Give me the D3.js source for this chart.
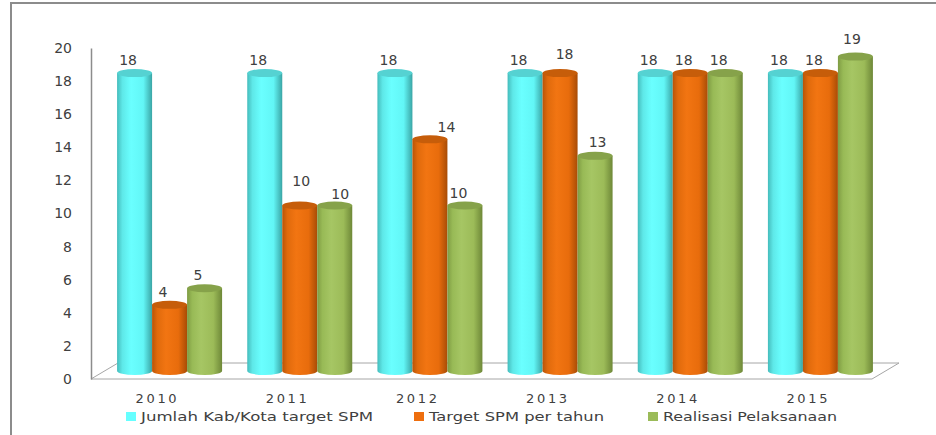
<!DOCTYPE html>
<html>
<head>
<meta charset="utf-8">
<script src="https://cdn.jsdelivr.net/npm/d3@7"></script>
<style>
  body { margin: 0; background: #fff; }
  svg { display: block; font-family: "DejaVu Sans", sans-serif; }
</style>
</head>
<body>
<svg id="chart" width="936" height="435"></svg>
<script>
// data
var years = ["2010", "2011", "2012", "2013", "2014", "2015"];
var seriesNames = ["Jumlah Kab/Kota target SPM", "Target SPM per tahun", "Realisasi Pelaksanaan"];
var jumlahKabKota = [18, 18, 18, 18, 18, 18];
var targetSPM = [4, 10, 14, 18, 18, 18];
var realisasi = [5, 10, 10, 13, 18, 19];
var yTicks = [0, 2, 4, 6, 8, 10, 12, 14, 16, 18, 20];

var seriesValues = [jumlahKabKota, targetSPM, realisasi];

var svg = d3.select("#chart");

// colours: body gradient stops + top cap
var pal = [
  {stops: ["#45bcbc", "#5ee8e8", "#6affff", "#62f6f6", "#3aa5a5"], top: "#55d2d2", key: "#66ffff"},
  {stops: ["#b85508", "#e06a0c", "#f27512", "#e86c0c", "#a84c06"], top: "#c65d0a", key: "#ee6e0e"},
  {stops: ["#7f9c44", "#98ba56", "#a6c664", "#9cbb58", "#6e8838"], top: "#86a24a", key: "#9bbb59"}
];

var defs = svg.append("defs");
pal.forEach(function(p, i) {
  var lg = defs.append("linearGradient").attr("id", "cyl" + i)
    .attr("x1", 0).attr("x2", 1).attr("y1", 0).attr("y2", 0);
  var offs = [0, 0.15, 0.4, 0.75, 1];
  p.stops.forEach(function(c, j) {
    lg.append("stop").attr("offset", offs[j]).attr("stop-color", c);
  });
});

// outer frame
svg.append("rect")
  .attr("x", 11).attr("y", 3)
  .attr("width", 940).attr("height", 450)
  .attr("fill", "#fff")
  .attr("stroke", "#8c8c8c").attr("stroke-width", 2);

// 3d geometry
var left = 91, right = 872, base = 379;
var depthX = 27, depthY = 16;

var x = d3.scaleBand().domain(years).range([left, right]);
var yFront = d3.scaleLinear().domain([0, 20]).range([base, base - 331]);
// bars stand half way into the floor
var yBar = d3.scaleLinear().domain([0, 20]).range([base - depthY / 2, base - depthY / 2 - 331]);
var barGroupW = 105;
var xInner = d3.scaleBand().domain(d3.range(3)).range([0, barGroupW]);

// floor
svg.append("path")
  .attr("d", "M" + left + "," + base +
    "L" + (left + depthX) + "," + (base - depthY) +
    "L" + (right + depthX) + "," + (base - depthY) +
    "L" + right + "," + base + "Z")
  .attr("fill", "#fff")
  .attr("stroke", "#a6a6a6").attr("stroke-width", 1);

// y axis
var yAxis = svg.append("g")
  .attr("transform", "translate(" + left + ",0)")
  .call(d3.axisLeft(yFront).tickValues(yTicks).tickSize(0).tickSizeOuter(0).tickPadding(19));
yAxis.select(".domain").attr("stroke", "#8c8c8c").attr("stroke-width", 1.5);
yAxis.selectAll("text").attr("font-size", 14).attr("fill", "#404040")
  .attr("font-family", "DejaVu Sans");

// x axis
var xAxis = svg.append("g")
  .attr("transform", "translate(0," + base + ")")
  .call(d3.axisBottom(x).tickSize(0).tickPadding(15));
xAxis.select(".domain").remove();
xAxis.selectAll("text").attr("font-size", 13).attr("fill", "#404040")
  .attr("font-family", "DejaVu Sans")
  .attr("textLength", 41).attr("lengthAdjust", "spacing");

// bars
var bars = [];
years.forEach(function(yr, gi) {
  seriesValues.forEach(function(vals, si) {
    bars.push({year: yr, s: si, v: vals[gi]});
  });
});

var rx = 17.5, ry = 4;
function barX(d) {
  return x(d.year) + depthX / 2 + (x.bandwidth() - barGroupW) / 2 + xInner(d.s);
}

var cyl = svg.append("g").selectAll("g.bar").data(bars).enter().append("g").attr("class", "bar");

cyl.append("path")
  .attr("d", function(d) {
    var x0 = barX(d), w = xInner.bandwidth();
    var t = yBar(d.v), b = yBar(0);
    return "M" + x0 + "," + t + "L" + x0 + "," + b +
      "A" + (w / 2) + "," + ry + " 0 0 0 " + (x0 + w) + "," + b +
      "L" + (x0 + w) + "," + t + "Z";
  })
  .attr("fill", function(d) { return "url(#cyl" + d.s + ")"; });

cyl.append("ellipse")
  .attr("cx", function(d) { return barX(d) + xInner.bandwidth() / 2; })
  .attr("cy", function(d) { return yBar(d.v); })
  .attr("rx", function() { return xInner.bandwidth() / 2; })
  .attr("ry", ry)
  .attr("fill", function(d) { return pal[d.s].top; });

// value labels; excel shifted a few of them to avoid the neighbours
var nudge = {
  "1-2011": [8, -12], "2-2011": [12, 1], "1-2012": [23, 1],
  "1-2013": [11, -6], "2-2013": [9, -1], "2-2015": [3, -5]
};
svg.append("g").selectAll("text").data(bars).enter().append("text")
  .attr("x", function(d) {
    var n = nudge[d.s + "-" + d.year] || [0, 0];
    return barX(d) + xInner.bandwidth() / 2 - 6.5 + n[0];
  })
  .attr("y", function(d) {
    var n = nudge[d.s + "-" + d.year] || [0, 0];
    return yBar(d.v) - 13 + n[1];
  })
  .attr("dy", "0.36em")
  .attr("text-anchor", "middle")
  .attr("font-size", 14)
  .attr("fill", "#404040")
  .text(function(d) { return d.v; });

// legend
var legX = [126, 414, 648];
var legW = [232, 175, 174];
var leg = svg.append("g").selectAll("g").data(seriesNames).enter().append("g")
  .attr("transform", function(d, i) { return "translate(" + legX[i] + ",412)"; });
leg.append("rect")
  .attr("width", 10).attr("height", 9)
  .attr("fill", function(d, i) { return pal[i].key; });
leg.append("text")
  .attr("x", 15).attr("y", 9)
  .attr("font-size", 13)
  .attr("fill", "#404040")
  .attr("textLength", function(d, i) { return legW[i]; })
  .attr("lengthAdjust", "spacingAndGlyphs")
  .text(function(d) { return d; });
</script>
</body>
</html>
